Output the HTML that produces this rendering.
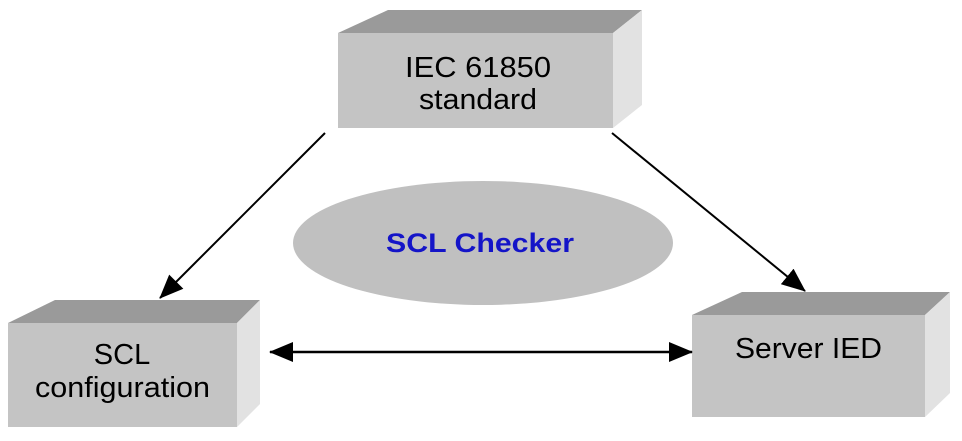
<!DOCTYPE html>
<html><head><style>body{margin:0;background:#fff}</style></head><body>
<svg width="962" height="436" viewBox="0 0 962 436" xmlns="http://www.w3.org/2000/svg" font-family="Liberation Sans, Arial, sans-serif">
<defs>
<marker id="b" viewBox="0 0 24 20" markerWidth="24" markerHeight="20" refX="23" refY="10" orient="auto" markerUnits="userSpaceOnUse"><path d="M0,0L24,10L0,20z" fill="#000"/></marker>
<marker id="c" viewBox="0 0 24 20" markerWidth="24" markerHeight="20" refX="23" refY="10" orient="auto-start-reverse" markerUnits="userSpaceOnUse"><path d="M0,0L24,10L0,20z" fill="#000"/></marker></defs>
<!-- top box -->
<polygon points="338,33 388,10 642,10 613,33" fill="#9a9a9a"/>
<polygon points="613,33 642,10 642,105 613,128" fill="#e2e2e2"/>
<rect x="338" y="33" width="275" height="95" fill="#c4c4c4"/>
<text x="405" y="77" font-size="29" textLength="146" lengthAdjust="spacingAndGlyphs">IEC 61850</text>
<text x="419" y="109" font-size="29" textLength="118" lengthAdjust="spacingAndGlyphs">standard</text>
<!-- left box -->
<polygon points="8,323 55,300 260,300 237,323" fill="#9a9a9a"/>
<polygon points="237,323 260,300 260,404 237,427" fill="#e2e2e2"/>
<rect x="8" y="323" width="229" height="104" fill="#c4c4c4"/>
<text x="122" y="364" font-size="29" text-anchor="middle">SCL</text>
<text x="35" y="397" font-size="29" textLength="175" lengthAdjust="spacingAndGlyphs">configuration</text>
<!-- right box -->
<polygon points="692,315 742,292 950,292 925,315" fill="#9a9a9a"/>
<polygon points="925,315 950,292 950,393 925,417" fill="#e2e2e2"/>
<rect x="692" y="315" width="233" height="102" fill="#c4c4c4"/>
<text x="735" y="358" font-size="29" textLength="147" lengthAdjust="spacingAndGlyphs">Server IED</text>
<!-- ellipse -->
<ellipse cx="483" cy="243" rx="190" ry="62" fill="#c0c0c0"/>
<text x="386" y="252" font-size="27" font-weight="bold" fill="#1414c8" textLength="188" lengthAdjust="spacingAndGlyphs">SCL Checker</text>
<!-- arrows -->
<line x1="325" y1="133" x2="160" y2="298" stroke="#000" stroke-width="2" marker-end="url(#b)"/>
<line x1="612" y1="133" x2="805" y2="291" stroke="#000" stroke-width="2" marker-end="url(#b)"/>
<line x1="270" y1="352" x2="692" y2="352" stroke="#000" stroke-width="2.5" marker-start="url(#c)" marker-end="url(#b)"/>
</svg>
</body></html>
